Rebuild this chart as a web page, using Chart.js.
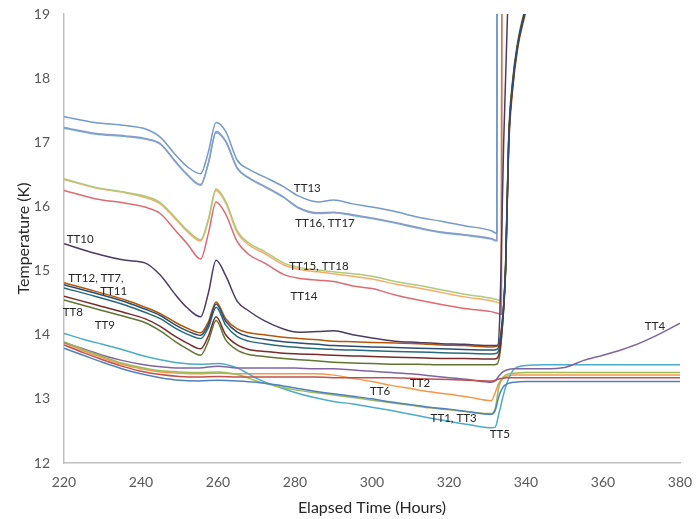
<!DOCTYPE html>
<html>
<head>
<meta charset="utf-8">
<script src="https://cdn.jsdelivr.net/npm/chart.js@4"></script>
<style>
html,body{margin:0;padding:0;background:#fff;}
#wrap{width:698px;height:519px;position:relative;}
</style>
</head>
<body>
<div id="wrap"><canvas id="c" width="698" height="519"></canvas></div>
<script>
// ---------- DATA ----------
const hoursMain = [220, 228, 236, 241, 245, 249, 252, 255.5, 257.5, 259.5, 262, 265, 268, 272, 277, 281, 286, 290, 295, 300, 306, 312, 318, 324, 331];

const tt13Main = [17.40, 17.31, 17.26, 17.21, 17.08, 16.80, 16.62, 16.51, 16.85, 17.31, 17.17, 16.72, 16.58, 16.46, 16.31, 16.16, 16.07, 16.10, 16.04, 15.99, 15.92, 15.83, 15.77, 15.70, 15.62];
const tt16Main = [17.23, 17.14, 17.10, 17.06, 16.98, 16.70, 16.50, 16.34, 16.68, 17.17, 17.02, 16.60, 16.45, 16.32, 16.15, 15.98, 15.90, 15.91, 15.87, 15.82, 15.75, 15.67, 15.60, 15.56, 15.50];
const tt17Main = [17.22, 17.13, 17.09, 17.05, 16.97, 16.69, 16.49, 16.33, 16.67, 17.15, 17.01, 16.59, 16.44, 16.31, 16.14, 15.97, 15.89, 15.90, 15.86, 15.81, 15.74, 15.66, 15.59, 15.55, 15.49];
const tt15Main = [16.43, 16.30, 16.22, 16.16, 16.06, 15.82, 15.63, 15.48, 15.80, 16.27, 16.08, 15.62, 15.43, 15.30, 15.12, 15.05, 15.01, 14.98, 14.95, 14.91, 14.83, 14.77, 14.70, 14.63, 14.57];
const tt18Main = [16.42, 16.29, 16.21, 16.14, 16.04, 15.80, 15.61, 15.46, 15.78, 16.25, 16.05, 15.59, 15.40, 15.27, 15.09, 15.02, 14.98, 14.95, 14.91, 14.87, 14.79, 14.73, 14.66, 14.59, 14.53];
const tt14Main = [16.25, 16.12, 16.05, 15.99, 15.89, 15.62, 15.42, 15.18, 15.58, 16.07, 15.88, 15.45, 15.25, 15.12, 14.94, 14.88, 14.85, 14.83, 14.76, 14.72, 14.62, 14.54, 14.47, 14.41, 14.36];
const tt10Main = [15.42, 15.27, 15.16, 15.12, 14.93, 14.62, 14.42, 14.28, 14.65, 15.16, 14.92, 14.52, 14.37, 14.22, 14.09, 14.04, 14.05, 14.06, 14.00, 13.95, 13.90, 13.88, 13.86, 13.85, 13.83];
const tt12Main = [14.81, 14.68, 14.54, 14.43, 14.33, 14.19, 14.10, 14.03, 14.20, 14.51, 14.25, 14.09, 14.03, 14.00, 13.96, 13.94, 13.92, 13.90, 13.89, 13.88, 13.87, 13.86, 13.84, 13.83, 13.81];
const tt7Main  = [14.78, 14.65, 14.51, 14.40, 14.30, 14.15, 14.06, 13.99, 14.16, 14.48, 14.21, 14.04, 13.97, 13.93, 13.89, 13.87, 13.85, 13.83, 13.82, 13.81, 13.80, 13.79, 13.78, 13.77, 13.76];
const tt11Main = [14.73, 14.60, 14.46, 14.35, 14.25, 14.10, 14.01, 13.94, 14.11, 14.43, 14.15, 13.97, 13.90, 13.86, 13.82, 13.80, 13.78, 13.77, 13.76, 13.75, 13.74, 13.73, 13.72, 13.71, 13.70];
const tt8Main  = [14.60, 14.47, 14.34, 14.25, 14.13, 13.97, 13.87, 13.78, 13.98, 14.28, 14.00, 13.84, 13.77, 13.74, 13.71, 13.70, 13.69, 13.68, 13.67, 13.66, 13.65, 13.64, 13.63, 13.63, 13.62];
const tt9Main  = [14.54, 14.41, 14.28, 14.19, 14.06, 13.89, 13.78, 13.68, 13.90, 14.22, 13.92, 13.76, 13.69, 13.66, 13.63, 13.61, 13.59, 13.57, 13.56, 13.55, 13.54, 13.54, 13.53, 13.53, 13.53];

// rise after ~331 h (values above 19 run off the top of the plot)
const tailTopHours = [332.4, 332.6];
const tt13Tail = [15.58, 24];
const tt16Tail = [15.47, 24];
const tt17Tail = [15.46, 24];
const tailMidHighHours = [333.6, 333.8];
const tt15Tail = [14.53, 24];
const tt18Tail = [14.49, 24];
const tt14Tail = [14.32, 24];
const tailTT10Hours = [332.6, 333.2, 333.6, 334.2, 335.2, 336.2];
const tt10Tail = [13.83, 14.30, 15.30, 17.00, 19.00, 20.60];
const tailMidHours = [332.4, 333.5, 334.7, 335.5, 336.5, 337.8, 339.6, 341.3];
const tt12Tail = [13.82, 14.05, 15.00, 16.90, 17.80, 18.45, 18.95, 19.35];
const tt7Tail  = [13.77, 14.00, 15.05, 17.00, 17.90, 18.50, 19.00, 19.40];
const tt11Tail = [13.71, 13.95, 15.05, 17.00, 17.90, 18.50, 19.00, 19.40];
const tt8Tail  = [13.63, 13.90, 15.00, 17.00, 17.85, 18.50, 19.00, 19.40];
const tt9Tail  = [13.54, 13.85, 15.10, 17.10, 17.95, 18.55, 19.05, 19.45];

const hoursLow = [220, 225, 230, 235, 240, 245, 250, 255, 260, 265, 270, 275, 280, 285, 290, 295, 300, 305, 310, 315, 320, 325, 331, 332, 333, 334, 335, 337, 340, 345, 350, 355, 360, 365, 370, 375, 380];
const tt1Temps = [13.79, 13.68, 13.57, 13.47, 13.39, 13.33, 13.29, 13.28, 13.29, 13.28, 13.26, 13.22, 13.17, 13.12, 13.08, 13.04, 13.00, 12.95, 12.91, 12.87, 12.84, 12.80, 12.76, 12.82, 13.05, 13.18, 13.23, 13.26, 13.27, 13.27, 13.27, 13.27, 13.27, 13.27, 13.27, 13.27, 13.27];
const tt2Temps = [13.84, 13.72, 13.61, 13.51, 13.43, 13.38, 13.35, 13.34, 13.35, 13.34, 13.34, 13.34, 13.34, 13.34, 13.33, 13.33, 13.33, 13.33, 13.32, 13.31, 13.30, 13.29, 13.28, 13.29, 13.31, 13.32, 13.33, 13.33, 13.33, 13.33, 13.33, 13.33, 13.33, 13.33, 13.33, 13.33, 13.33];
const tt3Temps = [13.89, 13.77, 13.66, 13.56, 13.49, 13.44, 13.42, 13.41, 13.42, 13.38, 13.28, 13.20, 13.14, 13.10, 13.06, 13.02, 12.98, 12.94, 12.90, 12.86, 12.83, 12.80, 12.77, 12.85, 13.20, 13.33, 13.38, 13.40, 13.41, 13.41, 13.41, 13.41, 13.41, 13.41, 13.41, 13.41, 13.41];
const tt4Temps = [13.88, 13.78, 13.68, 13.60, 13.54, 13.50, 13.48, 13.48, 13.51, 13.48, 13.48, 13.48, 13.48, 13.47, 13.47, 13.45, 13.43, 13.41, 13.39, 13.36, 13.33, 13.30, 13.26, 13.28, 13.36, 13.42, 13.45, 13.47, 13.47, 13.47, 13.49, 13.60, 13.68, 13.77, 13.88, 14.02, 14.18];
const tt5Temps = [14.02, 13.93, 13.85, 13.77, 13.68, 13.61, 13.56, 13.54, 13.55, 13.48, 13.32, 13.20, 13.10, 13.02, 12.96, 12.92, 12.87, 12.82, 12.76, 12.70, 12.65, 12.60, 12.55, 12.56, 12.78, 13.03, 13.24, 13.47, 13.52, 13.53, 13.53, 13.53, 13.53, 13.53, 13.53, 13.53, 13.53];
const tt6Temps = [13.87, 13.75, 13.64, 13.54, 13.47, 13.42, 13.40, 13.39, 13.40, 13.39, 13.39, 13.39, 13.39, 13.39, 13.37, 13.32, 13.27, 13.21, 13.16, 13.11, 13.07, 13.03, 12.97, 13.10, 13.25, 13.32, 13.35, 13.37, 13.37, 13.37, 13.37, 13.37, 13.37, 13.37, 13.37, 13.37, 13.37];

const xTicks = [220, 240, 260, 280, 300, 320, 340, 360, 380];
const yTicks = [12, 13, 14, 15, 16, 17, 18, 19];

// annotation labels (text, hour, temperature)
const labelTexts = ['TT13', 'TT16, TT17', 'TT15, TT18', 'TT14', 'TT10', 'TT12, TT7,', 'TT11', 'TT8', 'TT9', 'TT6', 'TT2', 'TT1, TT3', 'TT5', 'TT4'];
const labelHours = [283.2, 287.8, 286.2, 282.3, 224.2, 228.3, 232.9, 222.3, 230.6, 302.1, 312.5, 321.2, 333.2, 373.5];
const labelTemps = [16.29, 15.73, 15.07, 14.60, 15.48, 14.88, 14.67, 14.35, 14.14, 13.12, 13.24, 12.70, 12.45, 14.13];

// ---------- BUILD ----------
function pts(h, t) { return h.map((x, i) => ({x: x, y: t[i]})); }
function joined(h1, t1, h2, t2) { return pts(h1, t1).concat(pts(h2, t2)); }

const seriesDefs = [
  ['TT1', pts(hoursLow, tt1Temps), '#4F81BD'],
  ['TT2', pts(hoursLow, tt2Temps), '#C0504D'],
  ['TT3', pts(hoursLow, tt3Temps), '#9BBB59'],
  ['TT4', pts(hoursLow, tt4Temps), '#8064A2'],
  ['TT5', pts(hoursLow, tt5Temps), '#4BACC6'],
  ['TT6', pts(hoursLow, tt6Temps), '#F79646'],
  ['TT7', joined(hoursMain, tt7Main, tailMidHours, tt7Tail), '#2C4D75'],
  ['TT8', joined(hoursMain, tt8Main, tailMidHours, tt8Tail), '#772C2A'],
  ['TT9', joined(hoursMain, tt9Main, tailMidHours, tt9Tail), '#5F7530'],
  ['TT10', joined(hoursMain, tt10Main, tailTT10Hours, tt10Tail), '#4D3B62'],
  ['TT11', joined(hoursMain, tt11Main, tailMidHours, tt11Tail), '#276A7C'],
  ['TT12', joined(hoursMain, tt12Main, tailMidHours, tt12Tail), '#B65708'],
  ['TT13', joined(hoursMain, tt13Main, tailTopHours, tt13Tail), '#729ACA'],
  ['TT14', joined(hoursMain, tt14Main, tailMidHighHours, tt14Tail), '#DE6A72'],
  ['TT15', joined(hoursMain, tt15Main, tailMidHighHours, tt15Tail), '#AFC97A'],
  ['TT16', joined(hoursMain, tt16Main, tailTopHours, tt16Tail), '#8C9ACB'],
  ['TT17', joined(hoursMain, tt17Main, tailTopHours, tt17Tail), '#6FB4D6'],
  ['TT18', joined(hoursMain, tt18Main, tailMidHighHours, tt18Tail), '#F9AB6B']
];

const datasets = seriesDefs.map(d => ({
  label: d[0], data: d[1], borderColor: d[2], backgroundColor: d[2],
  borderWidth: 1.5, pointRadius: 0, fill: false,
  cubicInterpolationMode: 'monotone'
}));

const FONT = 'Lato, "Open Sans", sans-serif';

const labelPlugin = {
  id: 'seriesLabels',
  afterDatasetsDraw(chart) {
    const ctx = chart.ctx, xs = chart.scales.x, ys = chart.scales.y;
    ctx.save();
    ctx.font = '11.5px ' + FONT;
    ctx.fillStyle = '#262626';
    ctx.textAlign = 'center';
    ctx.textBaseline = 'middle';
    labelTexts.forEach((t, i) => {
      ctx.fillText(t, xs.getPixelForValue(labelHours[i]), ys.getPixelForValue(labelTemps[i]));
    });
    ctx.restore();
  }
};

new Chart(document.getElementById('c'), {
  type: 'line',
  data: { datasets: datasets },
  options: {
    responsive: false,
    animation: false,
    parsing: true,
    layout: { padding: { left: 0, right: 18, top: 14, bottom: 0 } },
    plugins: { legend: { display: false }, tooltip: { enabled: false } },
    scales: {
      x: {
        type: 'linear', min: 220, max: 380,
        afterBuildTicks: s => { s.ticks = xTicks.map(v => ({value: v})); },
        afterFit: s => { s.height = 56; s.paddingLeft = 0; s.paddingRight = 0; },
        grid: { display: true, color: 'rgba(0,0,0,0)', drawTicks: false },
        border: { display: true, color: '#BFBFBF', width: 1.5 },
        ticks: { color: '#595959', font: { family: FONT, size: 14 }, padding: 11, maxRotation: 0 },
        title: { display: true, text: 'Elapsed Time (Hours)', color: '#262626', font: { family: FONT, size: 16 }, padding: { top: 0, bottom: 2 } }
      },
      y: {
        type: 'linear', min: 12, max: 19,
        afterBuildTicks: s => { s.ticks = yTicks.map(v => ({value: v})); },
        afterFit: s => { s.width = 64; s.paddingTop = 0; s.paddingBottom = 0; },
        grid: { display: true, color: 'rgba(0,0,0,0)', drawTicks: false },
        border: { display: true, color: '#BFBFBF', width: 1.5 },
        ticks: { color: '#595959', font: { family: FONT, size: 14 }, padding: 14 },
        title: { display: true, text: 'Temperature (K)', color: '#262626', font: { family: FONT, size: 16 }, padding: { top: 14, bottom: 0 } }
      }
    }
  },
  plugins: [labelPlugin]
});
</script>
</body>
</html>
